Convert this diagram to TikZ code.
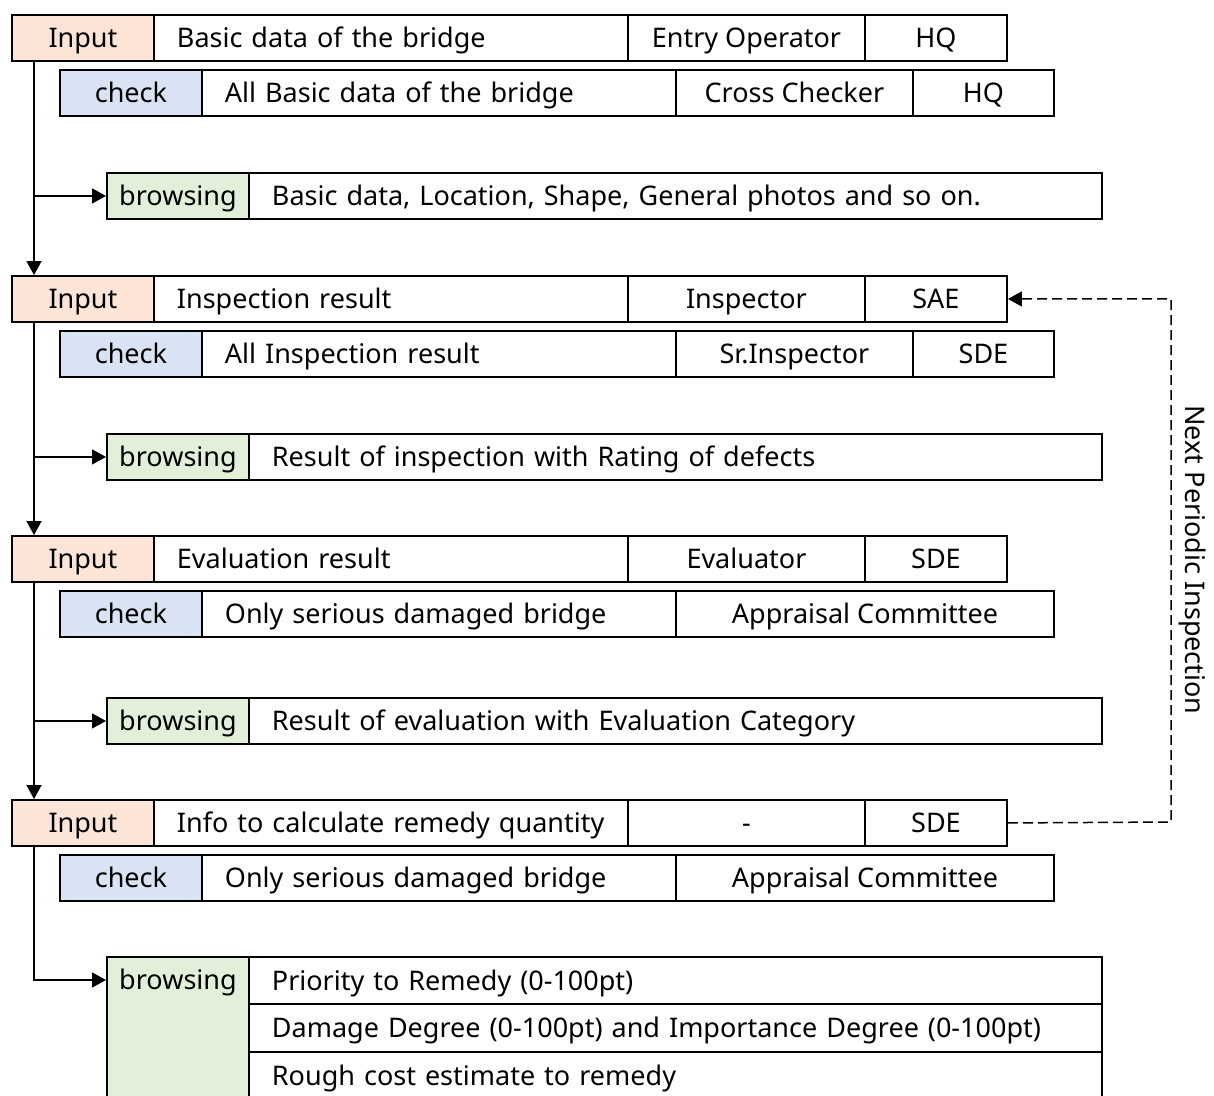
\documentclass[tikz,border=0pt]{standalone}
\usepackage{fontspec}
\setmainfont{Noto Sans}
\usetikzlibrary{arrows.meta,calc}
\definecolor{inpc}{HTML}{FCE4D6}
\definecolor{chkc}{HTML}{DAE3F3}
\definecolor{brwc}{HTML}{E2F0D9}
\begin{document}
\begin{tikzpicture}[x=1pt,y=-1pt,
  cell/.style={draw,line width=1.9pt,anchor=north west,inner sep=0pt,minimum height=46pt,text height=21pt,text depth=1pt,font=\fontsize{27}{30}\selectfont},
  ccell/.style={cell,minimum width=#1},
  lcell/.style={cell,text width=#1,align=left,inner xsep=23pt},
  inp/.style={ccell=142pt,fill=inpc},
  chk/.style={ccell=142pt,fill=chkc},
  brw/.style={ccell=142pt,fill=brwc},
  conn/.style={line width=1.5pt,-{Triangle[length=14pt,width=15pt]}},
  back/.style={line width=1.5pt,dash pattern=on 10pt off 5pt,-{Triangle[length=14pt,width=15pt]}}
]
\useasboundingbox (0,0) rectangle (1214,1095);
% ---------- block 1
\node[inp] (i1) at (11,14) {Input};
\node[lcell=428pt] (i1t) at (153,14) {Basic data of the bridge};
\node[ccell=237pt] (i1r) at (627,14) {Entry Operator};
\node[ccell=142pt] (i1o) at (864,14) {HQ};
\node[chk] (c1) at (59,69) {check};
\node[lcell=428pt] (c1t) at (201,69) {All Basic data of the bridge};
\node[ccell=237pt] (c1r) at (675,69) {Cross Checker};
\node[ccell=141pt] (c1o) at (912,69) {HQ};
\node[brw] (b1) at (106,172) {browsing};
\node[lcell=807pt] (b1t) at (248,172) {Basic data, Location, Shape, General photos and so on.};
% ---------- block 2
\node[inp] (i2) at (11,275) {Input};
\node[lcell=428pt] (i2t) at (153,275) {Inspection result};
\node[ccell=237pt] (i2r) at (627,275) {Inspector};
\node[ccell=142pt] (i2o) at (864,275) {SAE};
\node[chk] (c2) at (59,330) {check};
\node[lcell=428pt] (c2t) at (201,330) {All Inspection result};
\node[ccell=237pt] (c2r) at (675,330) {Sr.Inspector};
\node[ccell=141pt] (c2o) at (912,330) {SDE};
\node[brw] (b2) at (106,433) {browsing};
\node[lcell=807pt] (b2t) at (248,433) {Result of inspection with Rating of defects};
% ---------- block 3
\node[inp] (i3) at (11,535) {Input};
\node[lcell=428pt] (i3t) at (153,535) {Evaluation result};
\node[ccell=237pt] (i3r) at (627,535) {Evaluator};
\node[ccell=142pt] (i3o) at (864,535) {SDE};
\node[chk] (c3) at (59,590) {check};
\node[lcell=428pt] (c3t) at (201,590) {Only serious damaged bridge};
\node[ccell=378pt] (c3r) at (675,590) {Appraisal Committee};
\node[brw] (b3) at (106,697) {browsing};
\node[lcell=807pt] (b3t) at (248,697) {Result of evaluation with Evaluation Category};
% ---------- block 4
\node[inp] (i4) at (11,799) {Input};
\node[lcell=428pt] (i4t) at (153,799) {Info to calculate remedy quantity};
\node[ccell=237pt] (i4r) at (627,799) {-};
\node[ccell=142pt] (i4o) at (864,799) {SDE};
\node[chk] (c4) at (59,854) {check};
\node[lcell=428pt] (c4t) at (201,854) {Only serious damaged bridge};
\node[ccell=378pt] (c4r) at (675,854) {Appraisal Committee};
\node[cell,fill=brwc,minimum width=142pt,text height=33pt,text depth=117pt] (b4) at (106,956) {browsing};
\node[lcell=807pt,minimum height=47pt] (b4a) at (248,956) {Priority to Remedy (0-100pt)};
\node[lcell=807pt,minimum height=48pt] (b4b) at (248,1003) {Damage Degree (0-100pt) and Importance Degree (0-100pt)};
\node[lcell=807pt,minimum height=48pt] (b4c) at (248,1051) {Rough cost estimate to remedy};
% ---------- connectors
\coordinate (t1) at (34,60);
\coordinate (t2) at (34,321);
\coordinate (t3) at (34,581);
\coordinate (t4) at (34,845);
\draw[conn] (t1) -- (t1 |- i2.north);
\draw[conn] (t1 |- b1.west) -- (b1.west);
\draw[conn] (t2) -- (t2 |- i3.north);
\draw[conn] (t2 |- b2.west) -- (b2.west);
\draw[conn] (t3) -- (t3 |- i4.north);
\draw[conn] (t3 |- b3.west) -- (b3.west);
\coordinate (b4in) at (106,980);
\draw[conn] (t4) |- (b4in);
\coordinate (fb) at (1171,822);
\draw[back] (i4o.east) -- (fb) |- (i2o.east);
\node[rotate=-90,font=\fontsize{27}{30}\selectfont] (lab) at (1193,560) {Next Periodic Inspection};
\end{tikzpicture}
\end{document}
